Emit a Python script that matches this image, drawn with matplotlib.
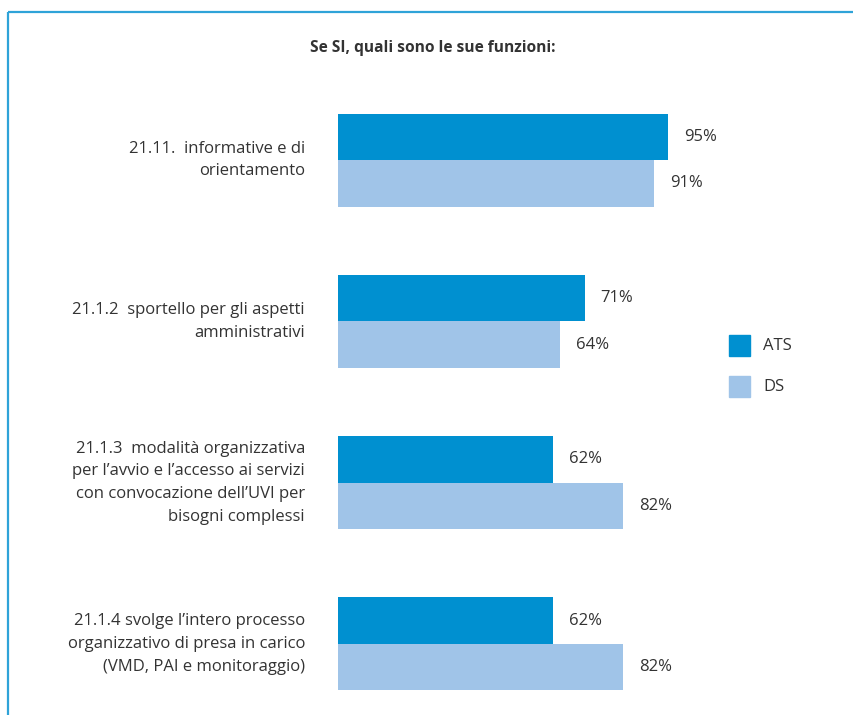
import matplotlib
matplotlib.use("Agg")
import matplotlib.pyplot as plt
from matplotlib.lines import Line2D
from matplotlib.patches import Rectangle

plt.rcParams['font.family'] = ['Open Sans', 'DejaVu Sans']

title = "Se SI, quali sono le sue funzioni:"
categories = [
    "21.11.  informative e di\norientamento",
    "21.1.2  sportello per gli aspetti\namministrativi",
    "21.1.3  modalità organizzativa\nper l\u2019avvio e l\u2019accesso ai servizi\ncon convocazione dell\u2019UVI per\nbisogni complessi",
    "21.1.4 svolge l\u2019intero processo\norganizzativo di presa in carico\n(VMD, PAI e monitoraggio)",
]
series_names = ["ATS", "DS"]
ats_values = [95, 71, 62, 62]
ds_values = [91, 64, 82, 82]

colors = ["#0090D0", "#A0C4E8"]
text_color = "#333333"
frame_color = "#2FA3D8"

W, H = 854, 715
fig = plt.figure(figsize=(W / 100, H / 100), dpi=100)

# frame lines on the left and top
fig.add_artist(Line2D([8 / W, 8 / W], [0, 1 - 12 / H], color=frame_color, lw=1.6,
                      transform=fig.transFigure, solid_capstyle="butt"))
fig.add_artist(Line2D([8 / W, 1], [1 - 12 / H, 1 - 12 / H], color=frame_color, lw=1.6,
                      transform=fig.transFigure, solid_capstyle="butt"))

fs = 12
fig.text(433 / W, 1 - 48 / H, title, ha="center", va="center", fontsize=11.2,
         fontweight="bold", color=text_color)

# axes: x from 0..100 mapped onto 338..685.4 px; group centres 161 px apart
ax_left, ax_w = 338, 347.4
top_px, bot_px = 80, 710
spacing = 161.3
c0 = 160
ax = fig.add_axes([ax_left / W, 1 - bot_px / H, ax_w / W, (bot_px - top_px) / H])
ax.set_xlim(0, 100)
ax.set_ylim((bot_px - c0) / spacing, (top_px - c0) / spacing)
ax.axis("off")

bh = 46.5 / spacing
ys = list(range(len(categories)))
ax.barh([y - bh / 2 for y in ys], ats_values, height=bh, color=colors[0], label=series_names[0])
ax.barh([y + bh / 2 for y in ys], ds_values, height=bh, color=colors[1], label=series_names[1])

for y, a, d in zip(ys, ats_values, ds_values):
    ax.annotate(f"{a}%", (a, y - bh / 2), xytext=(16, 0), textcoords="offset pixels",
                ha="left", va="center", fontsize=fs, color=text_color)
    ax.annotate(f"{d}%", (d, y + bh / 2), xytext=(16, 0), textcoords="offset pixels",
                ha="left", va="center", fontsize=fs, color=text_color)

for y, cat in zip(ys, categories):
    ax.annotate(cat, (0, y), xytext=(-33, 0), textcoords="offset pixels",
                ha="right", va="center", multialignment="right", fontsize=fs,
                color=text_color, linespacing=1.56)

# legend
for i, (name, col) in enumerate(zip(series_names, colors)):
    ytop = 335 + i * 41
    fig.add_artist(Rectangle((729 / W, 1 - (ytop + 21) / H), 21 / W, 21 / H,
                             transform=fig.transFigure, color=col))
    fig.text(763 / W, 1 - (ytop + 10.5) / H, name, ha="left", va="center",
             fontsize=fs, color=text_color)

fig.savefig("out.png", dpi=100)
